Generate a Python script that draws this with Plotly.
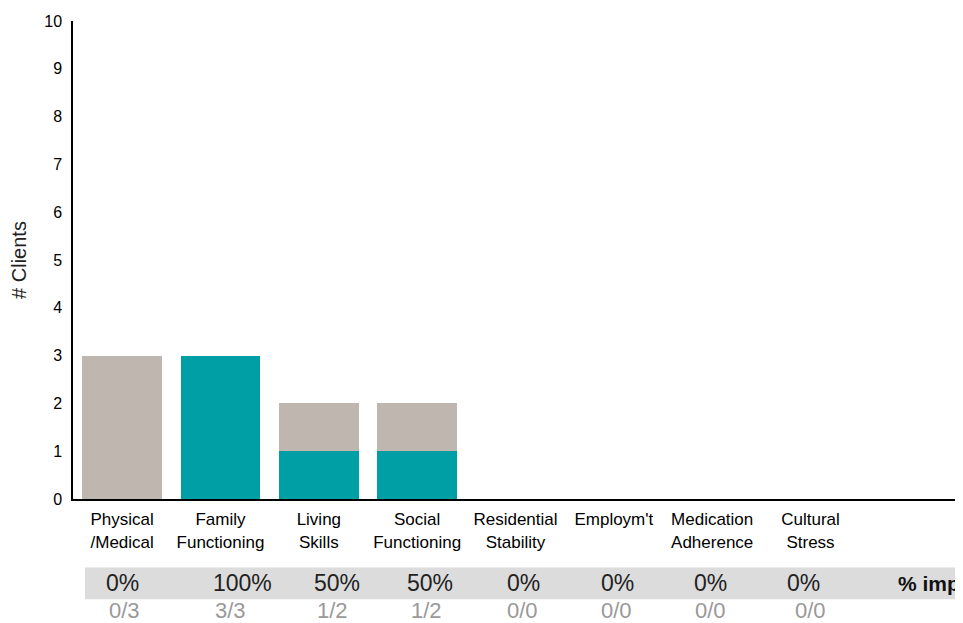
import plotly.graph_objects as go

categories = ["Physical<br>/Medical", "Family<br>Functioning", "Living<br>Skills",
              "Social<br>Functioning", "Residential<br>Stability", "Employm't",
              "Medication<br>Adherence", "Cultural<br>Stress", " "]
improved = [0, 3, 1, 1, 0, 0, 0, 0, 0]
not_improved = [3, 0, 1, 1, 0, 0, 0, 0, 0]
pct_labels = ["0%", "100%", "50%", "50%", "0%", "0%", "0%", "0%"]
frac_labels = ["0/3", "3/3", "1/2", "1/2", "0/0", "0/0", "0/0", "0/0"]
y_ticks = list(range(0, 11))

TEAL = "#009EA5"
GREY = "#BFB6AF"
FONT = "Liberation Sans, Arial, sans-serif"

fig = go.Figure()
fig.add_trace(go.Bar(x=list(range(len(categories))), y=improved, marker_color=TEAL,
                     marker_line_width=0, width=0.81, name="Improved"))
fig.add_trace(go.Bar(x=list(range(len(categories))), y=not_improved, marker_color=GREY,
                     marker_line_width=0, width=0.81, name="Not improved"))

# the page places the figure 8px from the top-left corner of the window
OFF = 8
W, H = 955, 615
ml = 73 - OFF
mt = 18 - OFF
mr = W - (958 - OFF)
mb = H - (499 - OFF)
pw = W - ml - mr
ph = H - mt - mb

def px_x(px):
    return (px - OFF - ml) / pw

def px_y(py):
    return (H - mb - (py - OFF)) / ph

# table column centres (window pixels) for the summary rows
pct_cols = [122, 242, 337, 430, 523, 617, 710, 803]
frac_cols = [124, 230, 332, 426, 522, 616, 710, 810]

annotations = []
for lab, cx in zip(pct_labels, pct_cols):
    annotations.append(dict(x=px_x(cx), y=px_y(584), xref="paper", yref="paper",
                            text=lab, showarrow=False, xanchor="center", yanchor="middle",
                            font=dict(family=FONT, size=23, color="#222222")))
for lab, cx in zip(frac_labels, frac_cols):
    annotations.append(dict(x=px_x(cx), y=px_y(611), xref="paper", yref="paper",
                            text=lab, showarrow=False, xanchor="center", yanchor="middle",
                            font=dict(family=FONT, size=22, color="#999999")))
annotations.append(dict(x=px_x(896), y=px_y(584), xref="paper", yref="paper",
                        text="<b>% improved</b>", showarrow=False, xanchor="left",
                        yanchor="middle", font=dict(family=FONT, size=21, color="#111111")))

shapes = [dict(type="rect", xref="paper", yref="paper",
               x0=px_x(85), x1=px_x(975), y0=px_y(600), y1=px_y(568),
               fillcolor="#DCDCDC", line_width=0, layer="below")]

fig.update_layout(
    width=W, height=H,
    margin=dict(l=ml, r=mr, t=mt, b=mb),
    barmode="stack",
    bargap=0.19,
    showlegend=False,
    plot_bgcolor="white",
    paper_bgcolor="white",
    font=dict(family=FONT, color="#000000"),
    annotations=annotations,
    shapes=shapes,
    xaxis=dict(
        tickmode="array",
        tickvals=list(range(len(categories))),
        ticktext=categories,
        range=[-0.5, len(categories) - 0.5],
        showgrid=False, zeroline=False,
        showline=True, linecolor="#000000", linewidth=2,
        ticks="", ticklabelstandoff=4,
        tickfont=dict(family=FONT, size=17, color="#000000"),
    ),
    yaxis=dict(
        range=[0, 10],
        tickmode="array", tickvals=y_ticks,
        showgrid=False, zeroline=False,
        showline=True, linecolor="#000000", linewidth=1.5,
        ticks="", ticklabelstandoff=6,
        tickfont=dict(family=FONT, size=16, color="#000000"),
        title=dict(text="# Clients", standoff=16,
                   font=dict(family=FONT, size=20, color="#222222")),
    ),
)

fig.write_html("out.html")
